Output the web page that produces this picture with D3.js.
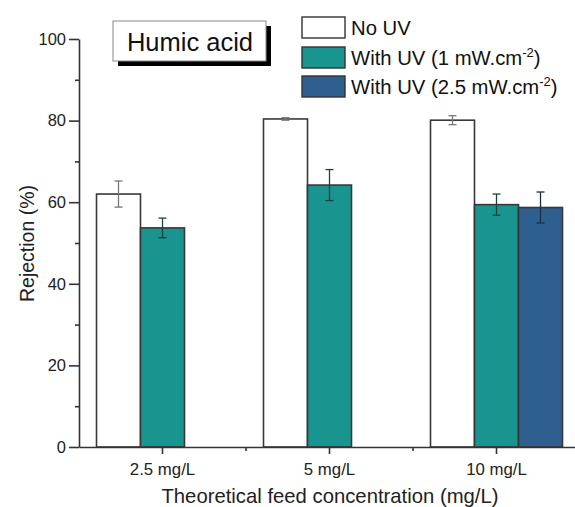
<!DOCTYPE html>
<html><head><meta charset="utf-8">
<script src="https://cdn.jsdelivr.net/npm/d3@7"></script>
<style>body{margin:0;background:#fff}text{font-family:"Liberation Sans",Arial,sans-serif}</style>
</head><body><svg id="c" width="575" height="507"></svg>
<script>
const categories = ["2.5 mg/L", "5 mg/L", "10 mg/L"];
const seriesNames = ["No UV", "With UV (1 mW.cm", "With UV (2.5 mW.cm"];
const noUV = [62.0, 80.4, 80.1];
const noUVErr = [3.2, 0.3, 1.1];
const uv1 = [53.7, 64.2, 59.4];
const uv1Err = [2.4, 3.8, 2.6];
const uv25 = [null, null, 58.7];
const uv25Err = [null, null, 3.8];
const yTicks = [0, 20, 40, 60, 80, 100];

const colors = ["#ffffff", "#19948f", "#2f5f8f"];
const errColors = ["#777", "#1f3f3f", "#1b2f45"];
const series = [
  {name: seriesNames[0], vals: noUV, errs: noUVErr},
  {name: seriesNames[1], vals: uv1, errs: uv1Err},
  {name: seriesNames[2], vals: uv25, errs: uv25Err}
];

const svg = d3.select("#c");
const x0 = 79, x1 = 580, yTop = 39, yBot = 447;
const x = d3.scaleBand().domain(categories).range([x0, x1]);
const y = d3.scaleLinear().domain([0, 100]).range([yBot, yTop]);
const barW = 44;

// bars
series.forEach((s, si) => {
  categories.forEach((c, ci) => {
    const v = s.vals[ci];
    if (v == null) return;
    const cx = x(c) + x.bandwidth() / 2 + (si - 1) * barW;
    svg.append("rect")
      .attr("x", cx - barW / 2).attr("y", y(v))
      .attr("width", barW).attr("height", y(0) - y(v))
      .attr("fill", colors[si]).attr("stroke", "#383838").attr("stroke-width", 1.6);
  });
});
// error bars
series.forEach((s, si) => {
  categories.forEach((c, ci) => {
    const v = s.vals[ci];
    if (v == null) return;
    const e = s.errs[ci];
    const cx = x(c) + x.bandwidth() / 2 + (si - 1) * barW;
    const g = svg.append("g").attr("stroke", errColors[si]).attr("stroke-width", 1.3);
    g.append("line").attr("x1", cx).attr("x2", cx).attr("y1", y(v + e)).attr("y2", y(v - e));
    g.append("line").attr("x1", cx - 4).attr("x2", cx + 4).attr("y1", y(v + e)).attr("y2", y(v + e));
    g.append("line").attr("x1", cx - 4).attr("x2", cx + 4).attr("y1", y(v - e)).attr("y2", y(v - e));
  });
});

// y axis
const yAxis = d3.axisLeft(y).tickValues(yTicks).tickSize(10).tickSizeOuter(0);
const gy = svg.append("g").attr("transform", `translate(${x0},0)`).call(yAxis);
gy.select(".domain").attr("stroke", "#333").attr("stroke-width", 1.6);
gy.selectAll(".tick line").attr("stroke", "#333").attr("stroke-width", 1.6);
gy.selectAll(".tick text").style("font-size", "16.5px").attr("fill", "#222").attr("x", -13);
const yMinor = d3.axisLeft(y).tickValues([10, 30, 50, 70, 90]).tickSize(4).tickFormat("");
const gym = svg.append("g").attr("transform", `translate(${x0},0)`).call(yMinor);
gym.select(".domain").remove();
gym.selectAll(".tick line").attr("stroke", "#333").attr("stroke-width", 1.6);

// x axis
const xAxis = d3.axisBottom(x).tickSize(7).tickSizeOuter(0);
const gx = svg.append("g").attr("transform", `translate(0,${yBot})`).call(xAxis);
gx.select(".domain").attr("stroke", "#333").attr("stroke-width", 1.6);
gx.selectAll(".tick line").attr("stroke", "#333").attr("stroke-width", 1.6);
gx.selectAll(".tick text").style("font-size", "16.8px").attr("fill", "#222").attr("y", 28).attr("dy", 0);
// minor x ticks between categories
const minorX = categories.slice(1).map(c => x(c));
svg.selectAll(".mx").data(minorX).enter().append("line")
  .attr("x1", d => d).attr("x2", d => d).attr("y1", yBot).attr("y2", yBot + 4)
  .attr("stroke", "#333").attr("stroke-width", 1.6);

// axis titles
svg.append("text").attr("x", 330).attr("y", 503).attr("text-anchor", "middle")
  .style("font-size", "20.3px").attr("fill", "#222").text("Theoretical feed concentration (mg/L)");
svg.append("text").attr("transform", "translate(34,243.5) rotate(-90)").attr("text-anchor", "middle")
  .style("font-size", "19.5px").attr("fill", "#222").text("Rejection (%)");

// Humic acid box
svg.append("rect").attr("x", 118).attr("y", 26).attr("width", 153).attr("height", 40).attr("fill", "#000");
svg.append("rect").attr("x", 113).attr("y", 21).attr("width", 153).attr("height", 40)
  .attr("fill", "#fff").attr("stroke", "#888").attr("stroke-width", 1);
svg.append("text").attr("x", 190).attr("y", 51).attr("text-anchor", "middle")
  .style("font-size", "25.5px").attr("fill", "#111").text("Humic acid");

// legend
const leg = svg.append("g");
const rowY = [17, 47, 76];
series.forEach((s, i) => {
  const ly = rowY[i];
  leg.append("rect").attr("x", 302).attr("y", ly).attr("width", 43).attr("height", 21)
    .attr("fill", colors[i]).attr("stroke", "#333").attr("stroke-width", 1.4);
  const t = leg.append("text").attr("x", 351).attr("y", ly + 18).style("font-size", "20.3px").attr("fill", "#111");
  if (i === 0) t.text(s.name);
  else {
    t.append("tspan").text(s.name);
    t.append("tspan").style("font-size", "13px").attr("dy", -8).text("-2");
    t.append("tspan").attr("dy", 8).text(")");
  }
});
</script></body></html>
